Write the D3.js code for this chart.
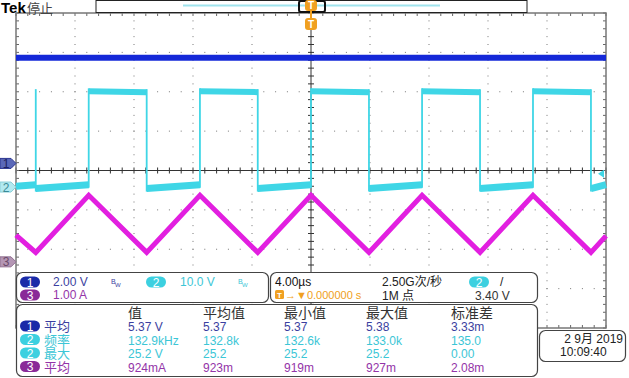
<!DOCTYPE html>
<html>
<head>
<meta charset="utf-8">
<script src="https://cdn.jsdelivr.net/npm/d3@7"></script>
<style>
  body { margin: 0; background: #fff; }
  text { font-family: "Liberation Sans", "Noto Sans CJK SC", sans-serif; }
</style>
</head>
<body>
<div id="scope"></div>
<script>
// channel setup: volts (or amps) per division and ground position in divisions
const chScale = { 1: 2, 2: 10, 3: 1 };
const chOffset = { 1: 0.18, 2: -0.42, 3: -2.32 };
const chColor = { 1: '#1428d8', 2: '#3fd6e6', 3: '#e21fe0' };
const chText = { 1: '#3b3fa0', 2: '#3cc6d6', 3: '#9434a8' };
const chBadge = { 1: '#1a2aa8', 2: '#3cd0e0', 3: '#8a2a98' };

// ch1: flat DC level (V)
const ch1Level = 5.37;

// ch2: switch node, edge times in µs relative to trigger
const ch2Rise = [-15.07, -7.53, 0, 7.53, 15.05];
const ch2Fall = [-18.66, -11.14, -3.61, 3.93, 11.46, 18.98];
const ch2High = [24.3, 24.1];   // start / end of high plateau (V)
const ch2Low = [-0.4, 0.6];     // start / end of low plateau (V)

// ch3: inductor current (A)
const ch3Times = [-20, -18.66, -15.07, -11.14, -7.53, -3.61, 0, 3.93, 7.53, 11.46, 15.05, 18.98, 20];
const ch3Amps = [0.68, 0.24, 1.69, 0.24, 1.69, 0.24, 1.69, 0.24, 1.69, 0.24, 1.69, 0.24, 0.66];

// measurement table
const measHeaders = ['值', '平均值', '最小值', '最大值', '标准差'];
const measChannels = [1, 2, 2, 3];
const measNames = ['平均', '频率', '最大', '平均'];
const measValues = [
  ['5.37 V', '5.37', '5.37', '5.38', '3.33m'],
  ['132.9kHz', '132.8k', '132.6k', '133.0k', '135.0'],
  ['25.2 V', '25.2', '25.2', '25.2', '0.00'],
  ['924mA', '923m', '919m', '927m', '2.08m']
];
const measColX = [128, 203, 284, 366, 451];

const width = 629;
const height = 378;
const svg = d3.select('#scope').append('svg').attr('width', width).attr('height', height);
svg.append('rect').attr('width', width).attr('height', height).attr('fill', '#fff');

const x = d3.scaleLinear().domain([-20, 20]).range([16, 606]);
const ydiv = d3.scaleLinear().domain([-4, 4]).range([328, 13]);
const yCh = (ch, v) => ydiv(chOffset[ch] + v / chScale[ch]);

// ---- graticule ----
const grid = svg.append('g');
const minorX = d3.range(-20, 20.01, 0.8);
const minorY = d3.range(-4, 4.01, 0.2);
[-16, -12, -8, -4, 4, 8, 12, 16].forEach(t => {
  grid.selectAll(null).data(minorY.slice(1, -1)).enter().append('rect')
    .attr('x', x(t) - 0.5).attr('y', d => ydiv(d) - 0.5).attr('width', 1).attr('height', 1).attr('fill', '#777');
});
[-3, -2, -1, 1, 2, 3].forEach(v => {
  grid.selectAll(null).data(minorX.slice(1, -1)).enter().append('rect')
    .attr('x', d => x(d) - 0.5).attr('y', ydiv(v) - 0.5).attr('width', 1).attr('height', 1).attr('fill', '#777');
});
// center cross with ticks
grid.append('line').attr('x1', x(0)).attr('x2', x(0)).attr('y1', 13).attr('y2', 328).attr('stroke', '#333');
grid.append('line').attr('x1', 16).attr('x2', 606).attr('y1', ydiv(0)).attr('y2', ydiv(0)).attr('stroke', '#333');
grid.selectAll(null).data(minorX).enter().append('line')
  .attr('x1', d => x(d)).attr('x2', d => x(d)).attr('y1', ydiv(0) - 3).attr('y2', ydiv(0) + 3).attr('stroke', '#333');
grid.selectAll(null).data(minorY).enter().append('line')
  .attr('y1', d => ydiv(d)).attr('y2', d => ydiv(d)).attr('x1', x(0) - 3).attr('x2', x(0) + 3).attr('stroke', '#333');
// border ticks
grid.selectAll(null).data(minorX).enter().append('line')
  .attr('x1', d => x(d)).attr('x2', d => x(d)).attr('y1', 13).attr('y2', 16).attr('stroke', '#666');
grid.selectAll(null).data(minorX).enter().append('line')
  .attr('x1', d => x(d)).attr('x2', d => x(d)).attr('y1', 325).attr('y2', 328).attr('stroke', '#666');
grid.selectAll(null).data(minorY).enter().append('line')
  .attr('y1', d => ydiv(d)).attr('y2', d => ydiv(d)).attr('x1', 16).attr('x2', 19).attr('stroke', '#666');
grid.selectAll(null).data(minorY).enter().append('line')
  .attr('y1', d => ydiv(d)).attr('y2', d => ydiv(d)).attr('x1', 603).attr('x2', 606).attr('stroke', '#666');
grid.append('rect').attr('x', 16).attr('y', 13).attr('width', 590).attr('height', 315)
  .attr('fill', 'none').attr('stroke', '#777').attr('stroke-width', 1.5);

// ---- traces ----
const tr = svg.append('g');
// ch3 triangle current
const line3 = d3.line().x(d => x(d[0])).y(d => yCh(3, d[1]));
tr.append('path').datum(d3.zip(ch3Times, ch3Amps)).attr('d', line3)
  .attr('fill', 'none').attr('stroke', chColor[3]).attr('stroke-width', 5).attr('stroke-linejoin', 'miter');

// ch2 square wave: plateaus as thick bands, edges as thin lines
const edges = ch2Rise.map(t => ({ t, up: true })).concat(ch2Fall.map(t => ({ t, up: false })))
  .sort((a, b) => a.t - b.t);
const bounds = [{ t: -20, up: false }].concat(edges).concat([{ t: 20 }]);
for (let i = 0; i < bounds.length - 1; i++) {
  const t0 = bounds[i].t, t1 = bounds[i + 1].t;
  const high = bounds[i].up === true;
  const lvl = high ? ch2High : ch2Low;
  // the first partial low interval ends near the lvl end value
  const full = i > 0 ? 1 : 0;
  const v0 = full ? lvl[0] : lvl[0] + (lvl[1] - lvl[0]) * (1 - (t1 - t0) / 3.6);
  tr.append('line').attr('x1', x(t0)).attr('x2', x(t1))
    .attr('y1', yCh(2, v0)).attr('y2', yCh(2, lvl[1]))
    .attr('stroke', chColor[2]).attr('stroke-width', high ? 6 : 7);
}
edges.forEach(e => {
  tr.append('line').attr('x1', x(e.t)).attr('x2', x(e.t))
    .attr('y1', yCh(2, e.up ? ch2Low[1] : ch2Low[0]) + 3).attr('y2', yCh(2, e.up ? ch2High[0] : ch2High[1]) - 3)
    .attr('stroke', chColor[2]).attr('stroke-width', 1.8);
});

// ch1 DC line
tr.append('line').attr('x1', x(-20)).attr('x2', x(20))
  .attr('y1', yCh(1, ch1Level)).attr('y2', yCh(1, ch1Level))
  .attr('stroke', chColor[1]).attr('stroke-width', 6);

// trigger level marker (3.40 V on ch2) at right edge
const trigY = yCh(2, 3.40);
svg.append('path').attr('d', `M598,${trigY} L604,${trigY - 4} L604,${trigY + 4} Z`).attr('fill', chColor[2]);

// ---- channel ground markers on left ----
const markerStyle = {
  1: { fill: '#5a68b8', stroke: '#2a3490', text: '#1c2060' },
  2: { fill: '#b2e9f0', stroke: '#8ccfd8', text: '#3a8a96' },
  3: { fill: '#b496b4', stroke: '#907090', text: '#6a4a6a' }
};
[1, 2, 3].forEach(ch => {
  const yy = ydiv(chOffset[ch]);
  const s = markerStyle[ch];
  const g = svg.append('g').attr('transform', `translate(0,${yy})`);
  g.append('path').attr('d', 'M0,-5 L11,-5 L16,0 L11,5 L0,5 Z').attr('fill', s.fill).attr('stroke', s.stroke);
  g.append('text').attr('x', 6).attr('y', 4.5).attr('text-anchor', 'middle')
    .attr('font-size', 12).attr('fill', s.text).text(ch);
});

// ---- top bar ----
svg.append('text').attr('x', 1).attr('y', 13).attr('font-family', 'Liberation Serif')
  .attr('font-weight', 'bold').attr('font-size', 15).attr('fill', '#000').text('Tek');
svg.append('text').attr('x', 27).attr('y', 13).attr('font-size', 13).attr('fill', '#444').text('停止');
svg.append('rect').attr('x', 96).attr('y', 0.5).attr('width', 431).attr('height', 12)
  .attr('fill', '#fff').attr('stroke', '#222');
svg.append('line').attr('x1', 183).attr('x2', 440).attr('y1', 5.5).attr('y2', 5.5)
  .attr('stroke', '#9fe4ee').attr('stroke-width', 2);
svg.append('rect').attr('x', 299).attr('y', 1).attr('width', 26).attr('height', 11).attr('rx', 2)
  .attr('fill', 'none').attr('stroke', '#111').attr('stroke-width', 2);
// trigger position markers
svg.append('line').attr('x1', x(0)).attr('x2', x(0)).attr('y1', 10).attr('y2', 20).attr('stroke', '#f0a020').attr('stroke-width', 2);
[[0, 11], [18, 12]].forEach(([yy, hh]) => {
  svg.append('rect').attr('x', x(0) - 6).attr('y', yy).attr('width', 12).attr('height', hh).attr('rx', 3).attr('fill', '#f0a020');
  svg.append('text').attr('x', x(0)).attr('y', yy + hh - 2).attr('text-anchor', 'middle')
    .attr('font-size', 10).attr('font-weight', 'bold').attr('fill', '#fff').text('T');
});

// ---- info panels ----
const panels = [[16, 272, 252, 30], [270, 272, 267, 30], [16, 304, 521, 72], [539, 330, 86, 31]];
svg.selectAll(null).data(panels).enter().append('rect')
  .attr('x', d => d[0] + 0.5).attr('y', d => d[1] + 0.5).attr('width', d => d[2]).attr('height', d => d[3])
  .attr('rx', 6).attr('fill', '#fff').attr('stroke', '#444').attr('stroke-width', 1.2);

function badge(cx, cy, ch) {
  svg.append('rect').attr('x', cx - 10).attr('y', cy - 5.5).attr('width', 20).attr('height', 11).attr('rx', 5.5)
    .attr('fill', chBadge[ch]);
  svg.append('text').attr('x', cx).attr('y', cy + 4.5).attr('text-anchor', 'middle')
    .attr('font-size', 12).attr('fill', '#fff').text(ch);
}
function label(xx, yy, s, col, size) {
  return svg.append('text').attr('x', xx).attr('y', yy).attr('font-size', size || 12).attr('fill', col).text(s);
}

// vertical settings
badge(30, 282, 1); label(53, 286, '2.00 V', chText[1]);
label(111, 284, 'B', chText[1], 7); label(115, 287, 'W', chText[1], 6);
badge(156, 282, 2); label(180, 286, '10.0 V', chText[2]);
label(238, 284, 'B', chText[2], 7); label(242, 287, 'W', chText[2], 6);
badge(30, 295, 3); label(53, 299, '1.00 A', chText[3]);

// horizontal / trigger settings
label(275, 286, '4.00µs', '#111');
label(382, 286, '2.50G次/秒', '#222');
badge(479, 282, 2); label(500, 286, '/', '#222');
svg.append('rect').attr('x', 275).attr('y', 290).attr('width', 9).attr('height', 9).attr('rx', 1.5).attr('fill', '#f0a020');
svg.append('text').attr('x', 279.5).attr('y', 298).attr('text-anchor', 'middle').attr('font-size', 8)
  .attr('font-weight', 'bold').attr('fill', '#fff').text('T');
label(285, 299, '→▼0.000000 s', '#f0a020', 11);
label(382, 300, '1M 点', '#222');
label(475, 300, '3.40 V', '#333');

// measurement table
measHeaders.forEach((h, i) => label(measColX[i], 318, h, '#333', 14));
measChannels.forEach((ch, r) => {
  const cy = 326 + r * 13.5;
  badge(30, cy, ch);
  label(44, cy + 5, measNames[r], chText[ch], 13);
  measValues[r].forEach((v, i) => label(measColX[i], cy + 5, v, chText[ch]));
});

// date / time
svg.append('text').attr('x', 623).attr('y', 343).attr('text-anchor', 'end').attr('font-size', 12).attr('fill', '#222').text('2 9月 2019');
label(560, 356, '10:09:40', '#222');
</script>
</body>
</html>
